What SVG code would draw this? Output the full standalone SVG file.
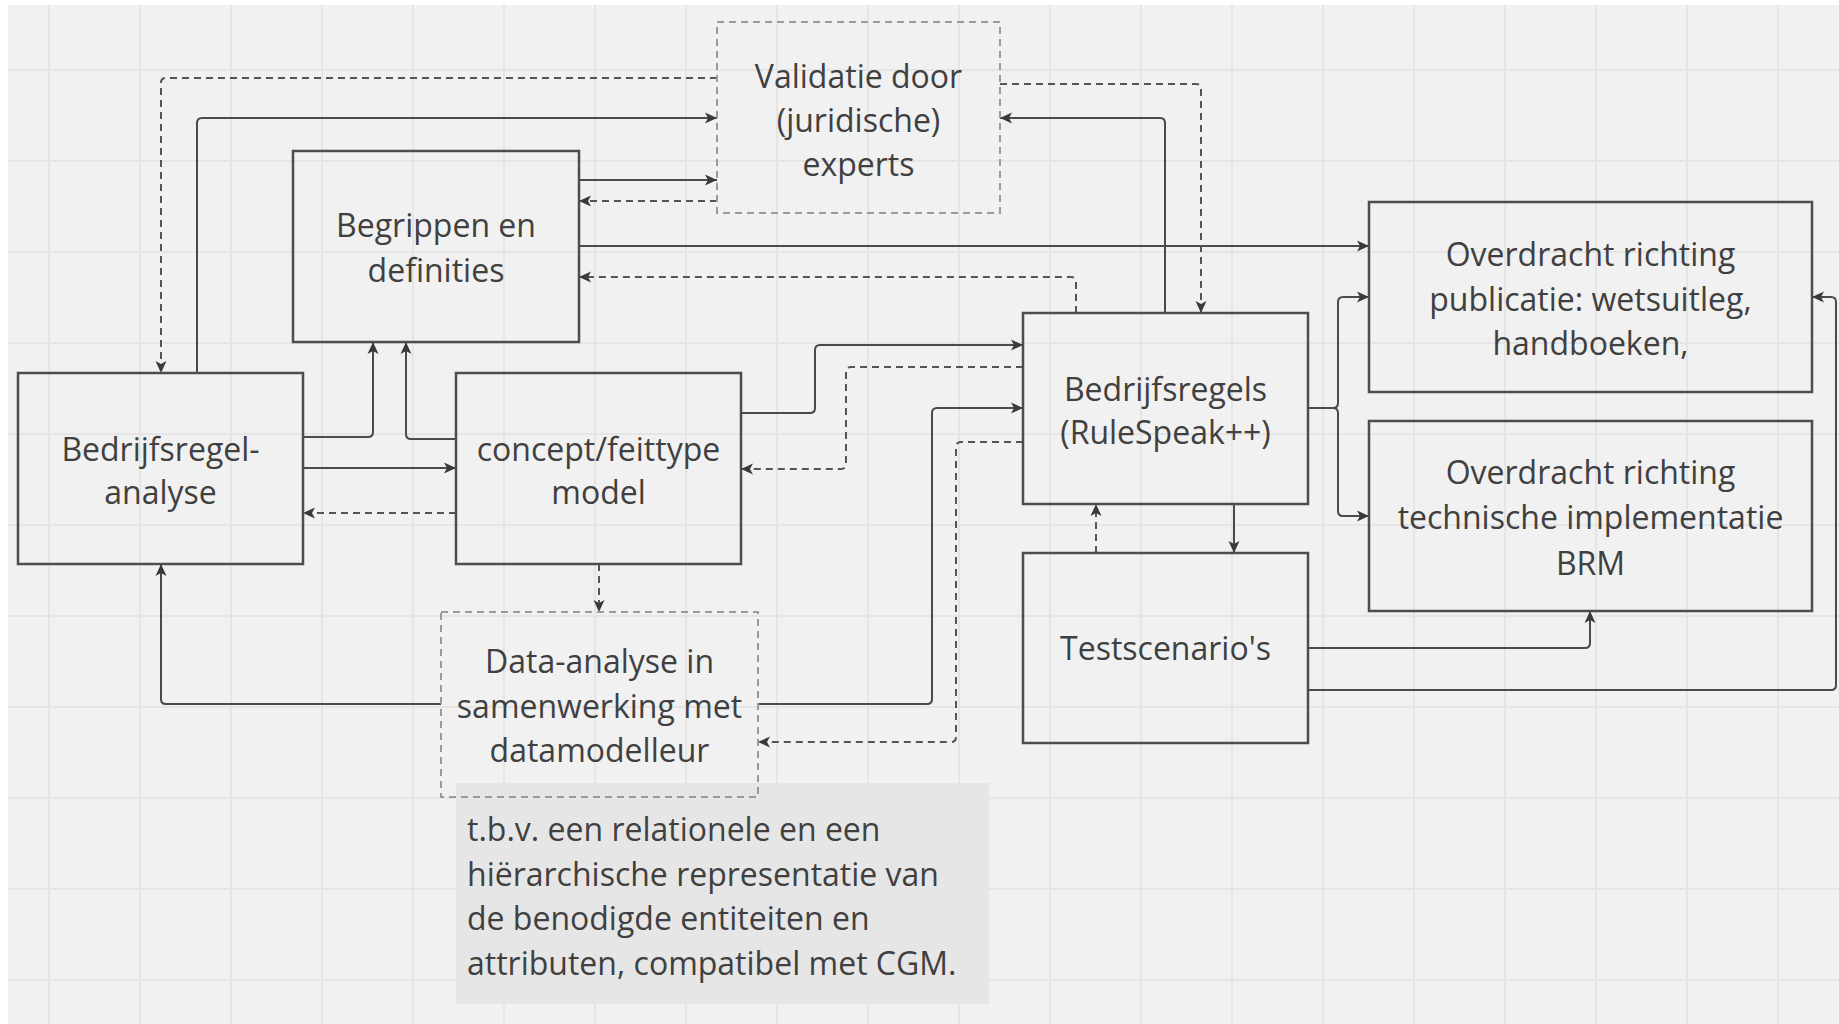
<svg xmlns="http://www.w3.org/2000/svg" width="1839" height="1024" viewBox="0 0 1839 1024">
<style>
.bg{fill:#f1f1f1}
.grid{stroke:#e5e5e5;stroke-width:2;fill:none}
.box{fill:none;stroke:#4d4d4d;stroke-width:2.5}
.dbox{fill:none;stroke:#9a9a9a;stroke-width:2;stroke-dasharray:7 5}
.note{fill:#e6e6e6}
.t{font-family:"Open Sans","Noto Sans",sans-serif;font-size:32px;fill:#404040;text-anchor:middle;dominant-baseline:central}
.tl{font-family:"Open Sans","Noto Sans",sans-serif;font-size:32px;fill:#404040;text-anchor:start;dominant-baseline:central}
.c{fill:none;stroke:#4a4a4a;stroke-width:2;marker-end:url(#ah)}
.d{fill:none;stroke:#555555;stroke-width:2;stroke-dasharray:7 5;marker-end:url(#ah)}
</style>
<defs>
<marker id="ah" markerUnits="userSpaceOnUse" markerWidth="12" markerHeight="12" refX="12" refY="6" orient="auto">
<path d="M0,0.5 L12,6 L0,11.5 L3,6 Z" fill="#3a3a3a"/>
</marker>
</defs>
<rect x="0" y="0" width="1839" height="1024" fill="#ffffff"/>
<rect class="bg" x="8" y="5" width="1831" height="1019"/>
<path class="grid" d="M49,5V1024M140,5V1024M231,5V1024M322,5V1024M413,5V1024M504,5V1024M595,5V1024M686,5V1024M777,5V1024M868,5V1024M959,5V1024M1050,5V1024M1141,5V1024M1232,5V1024M1323,5V1024M1414,5V1024M1505,5V1024M1596,5V1024M1687,5V1024M1778,5V1024M8,70H1839M8,161H1839M8,252H1839M8,343H1839M8,434H1839M8,525H1839M8,616H1839M8,707H1839M8,798H1839M8,889H1839M8,980H1839"/>

<g id="note">
<rect class="note" x="456" y="783" width="533" height="221"/>
<text class="tl" x="467" y="828">t.b.v. een relationele en een</text>
<text class="tl" x="467" y="873">hiërarchische representatie van</text>
<text class="tl" x="467" y="917">de benodigde entiteiten en</text>
<text class="tl" x="467" y="962">attributen, compatibel met CGM.</text>
</g>

<g id="connectors">
<path class="d" d="M717,78 H166 Q161,78 161,83 V373"/>
<path class="c" d="M197,373 V123 Q197,118 202,118 H717"/>
<path class="c" d="M579,180 H717"/>
<path class="d" d="M717,201 H579"/>
<path class="c" d="M579,246 H1369"/>
<path class="d" d="M1076,313 V282 Q1076,277 1071,277 H579"/>
<path class="c" d="M303,437 H368 Q373,437 373,432 V342"/>
<path class="c" d="M456,439 H411 Q406,439 406,434 V342"/>
<path class="c" d="M303,468 H456"/>
<path class="d" d="M456,513 H303"/>
<path class="c" d="M741,413 H810 Q815,413 815,408 V350 Q815,345 820,345 H1023"/>
<path class="d" d="M1023,367 H851 Q846,367 846,372 V464 Q846,469 841,469 H741"/>
<path class="c" d="M441,704 H166 Q161,704 161,699 V564"/>
<path class="c" d="M758,704 H927 Q932,704 932,699 V413 Q932,408 937,408 H1023"/>
<path class="d" d="M1023,442 H961 Q956,442 956,447 V737 Q956,742 951,742 H758"/>
<path class="d" d="M599,564 V612"/>
<path class="d" d="M1000,84 H1196 Q1201,84 1201,89 V313"/>
<path class="c" d="M1165,313 V123 Q1165,118 1160,118 H1000"/>
<path class="c" d="M1308,408 H1333 Q1338,408 1338,403 V302 Q1338,297 1343,297 H1369"/>
<path class="c" d="M1308,408 H1333 Q1338,408 1338,413 V511 Q1338,516 1343,516 H1369"/>
<path class="c" d="M1234,504 V553"/>
<path class="d" d="M1096,553 V504"/>
<path class="c" d="M1308,648 H1585 Q1590,648 1590,643 V611"/>
<path class="c" d="M1308,690 H1831 Q1836,690 1836,685 V302 Q1836,297 1831,297 H1812"/>
</g>

<g id="validatie">
<rect class="dbox" x="717" y="22" width="283" height="191"/>
<text class="t" x="858.5" y="75">Validatie door</text>
<text class="t" x="858.5" y="119">(juridische)</text>
<text class="t" x="858.5" y="163">experts</text>
</g>
<g id="begrippen">
<rect class="box" x="293" y="151" width="286" height="191"/>
<text class="t" x="436" y="224">Begrippen en</text>
<text class="t" x="436" y="269">definities</text>
</g>
<g id="analyse">
<rect class="box" x="18" y="373" width="285" height="191"/>
<text class="t" x="160.5" y="448">Bedrijfsregel-</text>
<text class="t" x="160.5" y="491">analyse</text>
</g>
<g id="concept">
<rect class="box" x="456" y="373" width="285" height="191"/>
<text class="t" x="598.5" y="448">concept/feittype</text>
<text class="t" x="598.5" y="491">model</text>
</g>
<g id="data-analyse">
<rect class="dbox" x="441" y="612" width="317" height="185"/>
<text class="t" x="599.5" y="660">Data-analyse in</text>
<text class="t" x="599.5" y="705">samenwerking met</text>
<text class="t" x="599.5" y="749">datamodelleur</text>
</g>
<g id="bedrijfsregels">
<rect class="box" x="1023" y="313" width="285" height="191"/>
<text class="t" x="1165.5" y="388">Bedrijfsregels</text>
<text class="t" x="1165.5" y="431">(RuleSpeak++)</text>
</g>
<g id="testscenarios">
<rect class="box" x="1023" y="553" width="285" height="190"/>
<text class="t" x="1165.5" y="647">Testscenario's</text>
</g>
<g id="overdracht-publicatie">
<rect class="box" x="1369" y="202" width="443" height="190"/>
<text class="t" x="1590.5" y="253">Overdracht richting</text>
<text class="t" x="1590.5" y="298">publicatie: wetsuitleg,</text>
<text class="t" x="1590.5" y="342">handboeken,</text>
</g>
<g id="overdracht-technisch">
<rect class="box" x="1369" y="421" width="443" height="190"/>
<text class="t" x="1590.5" y="471">Overdracht richting</text>
<text class="t" x="1590.5" y="516">technische implementatie</text>
<text class="t" x="1590.5" y="562">BRM</text>
</g>
</svg>
